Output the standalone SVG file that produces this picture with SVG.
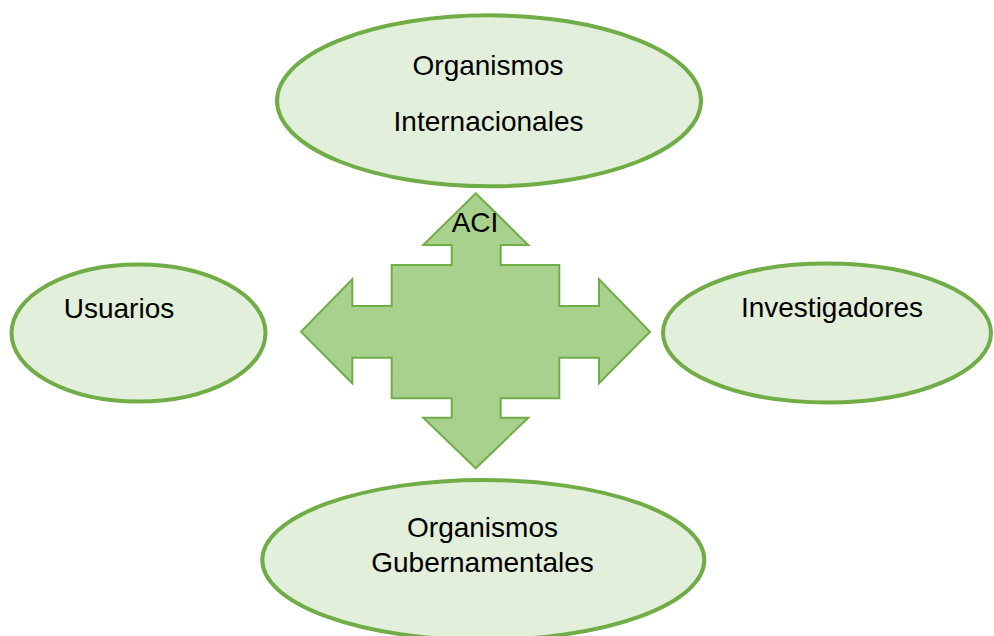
<svg xmlns="http://www.w3.org/2000/svg" width="994" height="636" viewBox="0 0 994 636">
<style>
.node{fill:#E2EFDA;stroke:#70AD47;stroke-width:4}
.arrow{fill:#A9D18E;stroke:#70AD47;stroke-width:2;stroke-linejoin:miter}
text{font-family:"Liberation Sans",Arial,sans-serif;font-size:28px;fill:#000;text-anchor:middle}
</style>
<rect width="994" height="636" fill="#fff"/>
<g id="connectors">
<polygon class="arrow" points="475.7,193.3 528.3,245 500.7,245 500.7,265 559.3,265 559.3,306 599,306 599,279.3 650,331.7 599,383.3 599,357.7 559.3,357.7 559.3,398.3 500.7,398.3 500.7,417.7 528.3,417.7 475.7,468.3 423.3,417.7 451.7,417.7 451.7,398.3 391.7,398.3 391.7,357.7 352.3,357.7 352.3,383.3 301,331.7 352.3,279.3 352.3,306 391.7,306 391.7,265 451.7,265 451.7,245 423.3,245"/>
</g>
<g id="aci">
<text x="475" y="231.5">ACI</text>
</g>
<g id="internacionales">
<ellipse class="node" cx="489" cy="100.8" rx="212" ry="85.5"/>
<text x="488" y="74.5">Organismos</text>
<text x="488.5" y="131">Internacionales</text>
</g>
<g id="usuarios">
<ellipse class="node" cx="138.5" cy="333" rx="127" ry="68.5"/>
<text x="119" y="318.3">Usuarios</text>
</g>
<g id="investigadores">
<ellipse class="node" cx="827" cy="333" rx="164" ry="69.5"/>
<text x="832" y="316.7">Investigadores</text>
</g>
<g id="gubernamentales">
<ellipse class="node" cx="483.3" cy="560" rx="221" ry="80"/>
<text x="482.5" y="536.7">Organismos</text>
<text x="482.5" y="571.7">Gubernamentales</text>
</g>
</svg>
